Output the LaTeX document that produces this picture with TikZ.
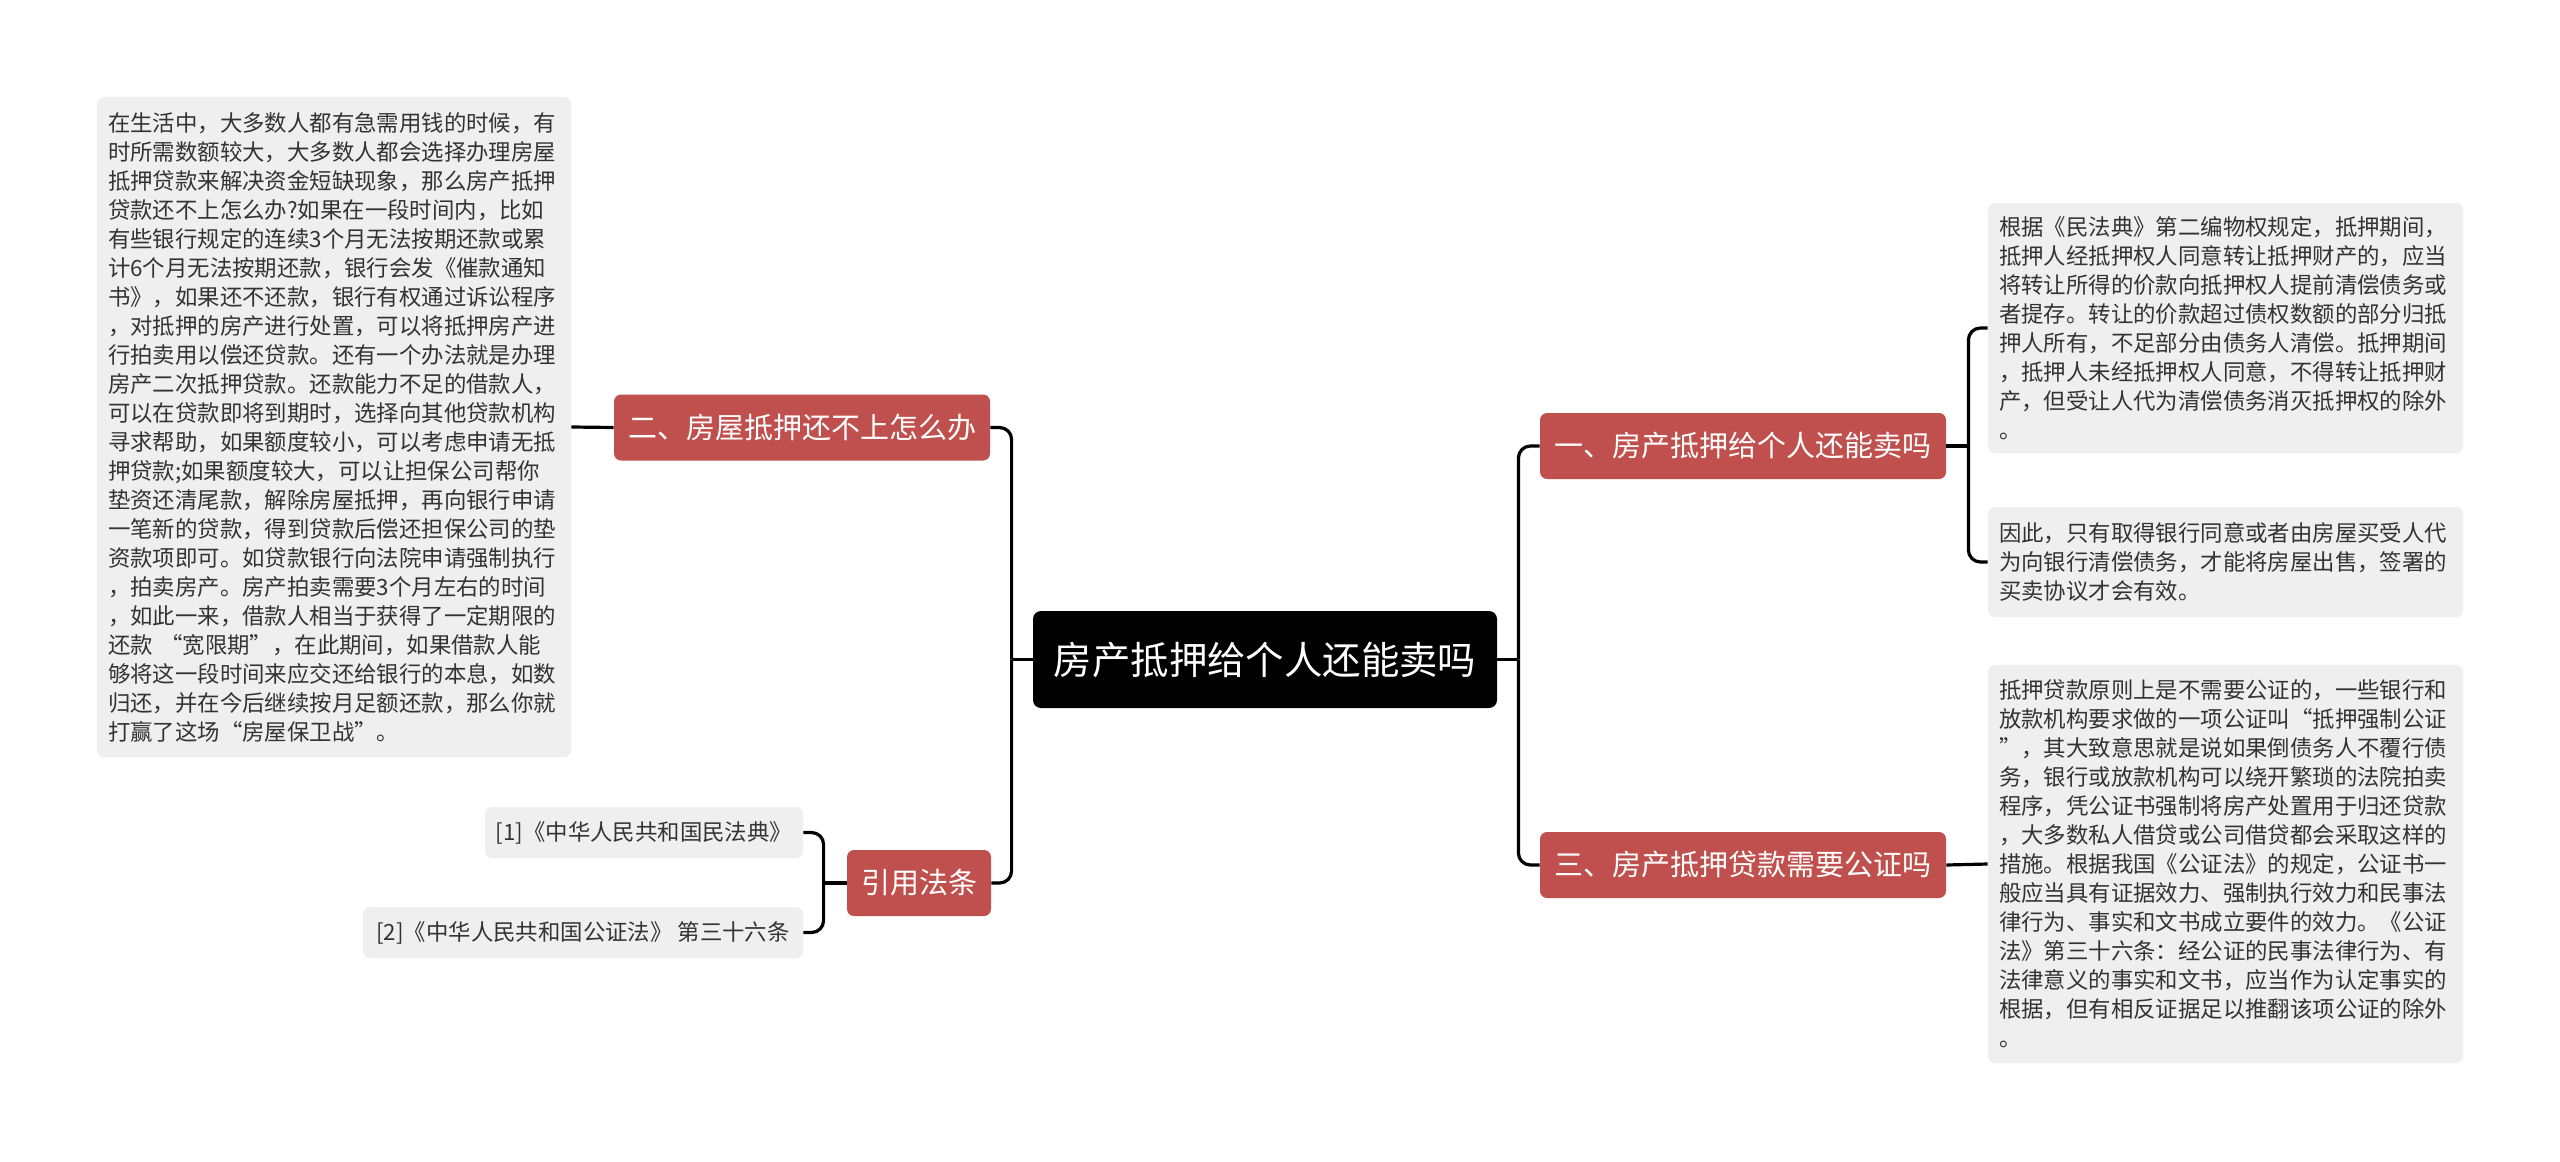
\documentclass[tikz,border=0pt]{standalone}
\usepackage{fontspec}
\setmainfont{Noto Sans CJK SC}
\definecolor{branchred}{HTML}{C0504D}
\definecolor{notegray}{HTML}{EFEFEF}
\definecolor{notetext}{HTML}{333333}

\begin{document}
\begin{tikzpicture}[x=0.5pt, y=-0.5pt,
    topic/.style={fill=black, text=white, rounded corners=4pt, minimum width=232pt, minimum height=48.5pt, inner sep=0pt, font=\fontsize{19.2pt}{23pt}\selectfont},
    branch/.style={fill=branchred, text=white, rounded corners=3.5pt, minimum height=33pt, inner sep=0pt, font=\fontsize{14.5pt}{17pt}\selectfont},
    note/.style={fill=notegray, text=notetext, rounded corners=3.5pt, inner xsep=5.5pt, inner ysep=0pt, align=left, font=\fontsize{11.2pt}{14.5pt}\selectfont},
    cite/.style={fill=notegray, text=notetext, rounded corners=3.5pt, minimum height=25.5pt, inner sep=0pt, font=\fontsize{11.2pt}{14.5pt}\selectfont},
    link/.style={line width=1.6pt, rounded corners=6pt}]
    \useasboundingbox[fill=white] (0,0) rectangle (2560,1162);

    % centre and branches
    \node[topic] (root) at (1265,659.5) {房产抵押给个人还能卖吗};
    \node[branch, minimum width=203pt] (b1) at (1743,446) {一、房产抵押给个人还能卖吗};
    \node[branch, minimum width=203pt] (b3) at (1743,865) {三、房产抵押贷款需要公证吗};
    \node[branch, minimum width=188pt] (b2) at (802,427.5) {二、房屋抵押还不上怎么办};
    \node[branch, minimum width=72pt] (law) at (919,883) {引用法条};

    % notes
    \node[note, text width=226pt, minimum height=330pt] (t0) at (334,427) {在生活中，大多数人都有急需用钱的时候，有\\时所需数额较大，大多数人都会选择办理房屋\\抵押贷款来解决资金短缺现象，那么房产抵押\\贷款还不上怎么办?如果在一段时间内，比如\\有些银行规定的连续3个月无法按期还款或累\\计6个月无法按期还款，银行会发《催款通知\\书》，如果还不还款，银行有权通过诉讼程序\\，对抵押的房产进行处置，可以将抵押房产进\\行拍卖用以偿还贷款。还有一个办法就是办理\\房产二次抵押贷款。还款能力不足的借款人，\\可以在贷款即将到期时，选择向其他贷款机构\\寻求帮助，如果额度较小，可以考虑申请无抵\\押贷款;如果额度较大，可以让担保公司帮你\\垫资还清尾款，解除房屋抵押，再向银行申请\\一笔新的贷款，得到贷款后偿还担保公司的垫\\资款项即可。如贷款银行向法院申请强制执行\\，拍卖房产。房产拍卖需要3个月左右的时间\\，如此一来，借款人相当于获得了一定期限的\\还款 “宽限期”，在此期间，如果借款人能\\够将这一段时间来应交还给银行的本息，如数\\归还，并在今后继续按月足额还款，那么你就\\打赢了这场“房屋保卫战”。};
    \node[note, text width=226.5pt, minimum height=125pt] (t1) at (2225.5,328) {根据《民法典》第二编物权规定，抵押期间，\\抵押人经抵押权人同意转让抵押财产的，应当\\将转让所得的价款向抵押权人提前清偿债务或\\者提存。转让的价款超过债权数额的部分归抵\\押人所有，不足部分由债务人清偿。抵押期间\\，抵押人未经抵押权人同意，不得转让抵押财\\产，但受让人代为清偿债务消灭抵押权的除外\\。};
    \node[note, text width=226.5pt, minimum height=55pt] (t2) at (2225.5,562) {因此，只有取得银行同意或者由房屋买受人代\\为向银行清偿债务，才能将房屋出售，签署的\\买卖协议才会有效。};
    \node[note, text width=226.5pt, minimum height=199pt] (t3) at (2225.5,864) {抵押贷款原则上是不需要公证的，一些银行和\\放款机构要求做的一项公证叫“抵押强制公证\\”，其大致意思就是说如果倒债务人不覆行债\\务，银行或放款机构可以绕开繁琐的法院拍卖\\程序，凭公证书强制将房产处置用于归还贷款\\，大多数私人借贷或公司借贷都会采取这样的\\措施。根据我国《公证法》的规定，公证书一\\般应当具有证据效力、强制执行效力和民事法\\律行为、事实和文书成立要件的效力。《公证\\法》第三十六条：经公证的民事法律行为、有\\法律意义的事实和文书，应当作为认定事实的\\根据，但有相反证据足以推翻该项公证的除外\\。};
    \node[cite, minimum width=159pt] (r1) at (644,832.5) {[1]《中华人民共和国民法典》};
    \node[cite, minimum width=220pt] (r2) at (583,932.5) {[2]《中华人民共和国公证法》 第三十六条};

    % connectors
    \draw[link] (root.east) -- ++(21,0) coordinate (jr);
    \draw[link] (b1.west) -| (jr);
    \draw[link] (b3.west) -| (jr);
    \draw[link] (root.west) -- ++(-21,0) coordinate (jl);
    \draw[link] (b2.east) -| (jl);
    \draw[link] (law.east) -| (jl);
    \draw[link] (b1.east) -- ++(22,0) coordinate (j1);
    \draw[link] (t1.west) -| (j1);
    \draw[link] (t2.west) -| (j1);
    \draw[link] (b3.east) -- (t3.west);
    \draw[link] (b2.west) -- (t0.east);
    \draw[link] (law.west) -- ++(-23,0) coordinate (jc);
    \draw[link] (r1.east) -| (jc);
    \draw[link] (r2.east) -| (jc);
\end{tikzpicture}
\end{document}
